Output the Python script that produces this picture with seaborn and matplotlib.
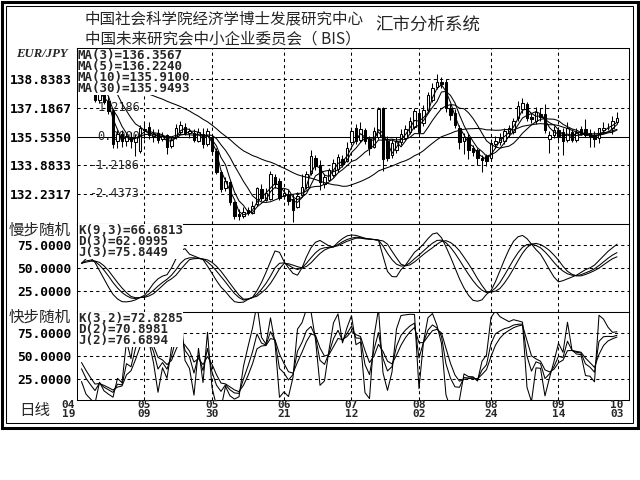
import numpy as np
import pandas as pd
import matplotlib
matplotlib.use("Agg")
import matplotlib.pyplot as plt
from matplotlib.patches import Rectangle
from matplotlib.transforms import blended_transform_factory
import seaborn as sns

# ---------------- data ----------------
# closes of the 29 sessions before the first shown day (seed for the moving averages)
history_close = [137.90, 138.10, 138.35, 138.20, 138.50, 138.30, 138.05, 138.25, 138.40, 138.15,
                 138.35, 138.20, 138.45, 138.10, 138.30, 138.55, 138.40, 138.25, 138.60, 138.45,
                 138.95, 139.30, 139.55, 139.80, 140.10, 140.05, 140.35, 140.20, 140.45]

open_px = [140.10, 139.70, 139.30, 138.55, 137.65, 138.00, 137.60, 137.00, 135.25, 135.70,
           135.30, 135.50, 135.20, 134.70, 135.90, 136.10, 135.55, 135.75, 135.40, 135.60,
           135.00, 135.50, 135.80, 136.10, 135.75, 135.75, 135.30, 135.70, 135.10, 135.45,
           134.70, 133.50, 132.60, 132.90, 131.75, 131.10, 130.95, 131.30, 131.15, 131.65,
           132.50, 131.90, 131.95, 133.20, 132.95, 132.10, 132.25, 131.95, 131.50, 132.15,
           132.65, 133.45, 134.30, 133.90, 132.80, 133.05, 133.30, 133.65, 134.25, 134.15,
           135.20, 136.00, 135.35, 135.90, 135.40, 134.95, 135.50, 137.15, 135.30, 134.45,
           134.75, 135.20, 135.45, 135.80, 136.10, 136.90, 136.30, 137.05, 137.65, 138.40,
           138.65, 138.65, 137.20, 136.90, 136.05, 135.25, 135.50, 134.90, 134.75, 134.30,
           134.40, 134.30, 135.10, 135.20, 135.25, 135.75, 135.80, 136.60, 137.10, 137.40,
           136.65, 136.40, 136.85, 136.85, 135.40, 135.60, 135.90, 135.80, 135.35, 135.80,
           135.35, 135.95, 135.95, 135.75, 135.65, 135.45, 135.90, 136.00, 136.05, 136.35]

high_px = [140.45, 140.00, 139.55, 138.70, 138.30, 138.20, 137.85, 137.10, 135.90, 135.90,
           135.75, 135.80, 135.70, 136.20, 136.35, 136.35, 135.95, 135.95, 135.80, 135.70,
           135.50, 136.25, 136.40, 136.30, 136.00, 135.95, 136.05, 136.00, 136.05, 135.60,
           134.85, 133.60, 133.20, 133.00, 131.85, 131.35, 131.45, 131.50, 131.85, 132.65,
           132.80, 132.55, 133.55, 133.40, 133.15, 132.55, 132.45, 132.20, 132.35, 133.35,
           133.55, 134.75, 134.50, 134.20, 133.40, 133.75, 134.25, 134.55, 134.45, 135.20,
           136.05, 136.25, 136.35, 136.05, 135.55, 136.10, 137.25, 137.25, 135.55, 135.40,
           135.50, 135.95, 136.20, 136.65, 137.20, 137.10, 137.35, 138.10, 138.60, 139.15,
           138.95, 138.85, 137.40, 137.10, 136.20, 135.75, 135.70, 135.05, 134.90, 134.50,
           134.55, 135.40, 135.55, 135.75, 136.05, 136.20, 136.60, 137.60, 137.75, 137.55,
           136.90, 137.25, 137.20, 137.40, 135.85, 136.15, 136.10, 136.00, 136.35, 135.95,
           136.05, 136.15, 136.55, 135.95, 135.85, 136.00, 136.3916, 136.30, 136.70, 136.94926]

low_px = [139.55, 139.15, 138.75, 137.50, 137.45, 137.40, 136.85, 134.85, 134.90, 134.95,
          135.00, 134.90, 134.40, 134.60, 135.40, 135.40, 135.20, 135.15, 135.25, 134.55,
          134.90, 135.40, 135.70, 135.60, 135.45, 135.20, 135.20, 134.90, 135.00, 134.60,
          133.40, 132.35, 132.40, 131.60, 130.80, 130.75, 130.85, 131.00, 131.05, 131.55,
          131.85, 131.80, 131.90, 132.60, 131.90, 131.95, 131.60, 130.60, 131.40, 132.05,
          132.50, 133.30, 133.60, 132.45, 132.60, 132.95, 133.20, 133.50, 133.80, 134.05,
          135.05, 135.10, 135.20, 135.10, 134.50, 134.85, 135.40, 133.55, 134.10, 134.30,
          134.60, 135.05, 135.35, 135.70, 135.95, 135.65, 136.15, 136.95, 137.55, 138.25,
          138.30, 136.95, 136.50, 136.00, 134.80, 134.55, 134.25, 134.40, 133.90, 133.50,
          133.85, 134.20, 134.90, 135.05, 135.10, 135.50, 135.70, 136.45, 136.90, 136.40,
          136.30, 136.25, 136.45, 135.75, 134.60, 135.45, 135.35, 134.45, 135.20, 135.20,
          135.20, 135.60, 135.50, 134.95, 134.95, 135.1704, 135.75, 135.90, 135.666, 136.25]

close_px = [139.75, 139.35, 138.95, 137.65, 138.05, 137.55, 137.00, 135.10, 135.70, 135.25,
            135.55, 135.25, 135.50, 136.00, 135.95, 135.60, 135.70, 135.35, 135.55, 134.95,
            135.35, 136.05, 136.20, 135.75, 135.85, 135.35, 135.80, 135.10, 135.85, 134.70,
            133.50, 132.50, 133.00, 131.75, 130.95, 130.95, 131.20, 131.15, 131.55, 132.55,
            132.00, 132.30, 133.40, 132.80, 132.00, 132.30, 131.85, 131.30, 132.10, 132.65,
            133.35, 134.40, 133.85, 132.90, 133.20, 133.60, 134.00, 134.35, 133.95, 134.90,
            135.85, 135.30, 135.95, 135.25, 134.85, 135.85, 137.10, 134.25, 134.30, 135.15,
            135.30, 135.70, 135.95, 136.45, 137.00, 135.80, 137.05, 137.90, 138.35, 138.65,
            138.55, 137.20, 136.75, 136.20, 135.20, 135.50, 134.75, 134.65, 134.30, 134.20,
            134.15, 135.15, 135.30, 135.45, 135.85, 136.00, 136.40, 137.30, 137.45, 136.60,
            136.55, 136.95, 136.65, 135.90, 135.60, 135.90, 135.55, 135.25, 136.05, 135.329,
            135.80, 135.70, 135.60, 135.50, 135.38, 136.00, 136.0499, 136.0501, 136.40, 136.62]

# slow stochastic (9,3): K and D per session
k_slow = [55, 57.5, 58.5, 57, 53, 47.5, 41, 34, 28, 23,
          19.5, 17, 16.5, 17.5, 18.5, 21.5, 25.5, 30, 34, 37.5,
          42, 48, 55, 59.5, 61, 61, 60.5, 59.5, 56.5, 52,
          46.5, 40.5, 34.5, 28, 22, 17.5, 14.7, 15.8, 17.6, 21,
          26.5, 33, 41, 50, 55, 55.5, 53, 50, 48.2, 50,
          55, 61, 66.5, 70.5, 72, 72.5, 73, 75.5, 78.5, 81,
          82.5, 83.5, 83, 82, 81.5, 81, 80.3, 74, 66, 59,
          54, 52, 52.5, 55.5, 60, 64, 68.5, 73, 77, 80,
          80.3, 77.5, 72.5, 66, 58.5, 50.5, 43, 36, 30, 25.5,
          23, 24, 28, 34, 42, 50.5, 59, 66.5, 72.5, 75.5,
          76, 74.5, 72, 67.5, 62, 56, 50.5, 46.5, 43.5, 42,
          41.5, 42.5, 44.5, 46.5, 49, 52.5, 56.5, 60.5, 64, 66.6813]
d_slow = [55, 56.25, 57.25, 57.5, 56, 52.25, 47, 40.5, 34, 28,
          22.85, 18.75, 17.25, 17.5, 17.75, 19.25, 21.75, 26, 30.5, 35,
          38, 42, 48, 53.75, 59, 60, 60.25, 59.75, 58.75, 56,
          51.75, 46.25, 39.75, 33, 26.5, 20.2, 15.8, 15.95, 17.6, 19,
          22.75, 27, 33, 40.75, 49, 54.75, 54.5, 53, 51.3, 50,
          51.5, 55.5, 60.75, 65.75, 69.5, 71.75, 73, 74.25, 76.75, 79,
          80.75, 82.5, 82.5, 81.75, 81.5, 81, 80.3, 79.5, 76, 68.25,
          60.9, 54, 52.25, 53.25, 56.5, 60.5, 64.75, 68.5, 72, 75.85,
          78.95, 79.75, 77.75, 74, 68.75, 61.75, 54.5, 46.75, 38.25, 30.75,
          24, 23.5, 24.5, 27.5, 33.5, 40.75, 49, 57.75, 66, 72.25,
          76, 76.75, 75.5, 72.75, 69, 64, 58.4, 51.75, 46.25, 43,
          41.25, 41.25, 42.75, 44.75, 47, 49.75, 53.25, 56.75, 60, 62.0995]

# latest fast stochastic (3,2) readings shown in the panel heading
fast_readout = [72.8285, 70.8981, 76.6894]

ma_periods = [3, 5, 10, 30]
price_ticks = [138.8383, 137.1867, 135.5350, 133.8833, 132.2317]
base_price = 135.5350
pct_labels = ["1.2186", "0.0000", "-1.2186", "-2.4373"]
pct_levels = [137.1867, 135.5350, 133.8833, 132.2317]
osc_ticks = [75.0, 50.0, 25.0]
date_pos = [0, 14, 29, 45, 60, 75, 91, 106, 119]
date_month = ["04", "05", "05", "06", "07", "08", "08", "09", "10"]
date_day = ["19", "09", "30", "21", "12", "02", "24", "14", "03"]

# ---------------- indicators ----------------
n = len(close_px)
xs = np.arange(n)
o = np.array(open_px); h = np.array(high_px); l = np.array(low_px); c = np.array(close_px)

full_close = pd.Series(history_close + close_px)
ma = {p: full_close.rolling(p, min_periods=1).mean().to_numpy()[len(history_close):]
      for p in ma_periods}


def kdj(hi, lo, cl, period, m1, m2):
    hh = pd.Series(hi).rolling(period, min_periods=1).max().to_numpy()
    ll = pd.Series(lo).rolling(period, min_periods=1).min().to_numpy()
    rsv = (cl - ll) / (hh - ll) * 100.0
    k = np.empty(len(cl)); d = np.empty(len(cl))
    kp = dp = 50.0
    for i, r in enumerate(rsv):
        kp = ((m1 - 1) * kp + r) / m1
        dp = ((m2 - 1) * dp + kp) / m2
        k[i] = kp; d[i] = dp
    return k, d, 3 * k - 2 * d


ks = np.array(k_slow); ds = np.array(d_slow); js = 3 * ks - 2 * ds
k_fast, d_fast, j_fast = kdj(h, l, c, 3, 2, 2)

# ---------------- figure ----------------
sns.set_theme(style="white")
plt.rcParams["font.family"] = ["DejaVu Sans", "Noto Sans CJK SC"]
W, H = 640, 480
fig = plt.figure(figsize=(6.4, 4.8), dpi=100)
fig.patch.set_facecolor("white")


def fx(px):
    return px / W


def fy(py):
    return 1 - py / H


L, R = 77, 629
ax1 = fig.add_axes([fx(L), fy(224), fx(R) - fx(L), fy(48) - fy(224)])
ax2 = fig.add_axes([fx(L), fy(312), fx(R) - fx(L), fy(224) - fy(312)])
ax3 = fig.add_axes([fx(L), fy(400), fx(R) - fx(L), fy(312) - fy(400)])

LW = 0.75
DASH = (0, (3, 3))
MONO = dict(family="DejaVu Sans Mono", weight="bold")
CJK = ["Noto Sans CJK SC", "DejaVu Sans"]

for ax in (ax1, ax2, ax3):
    ax.set_facecolor("white")
    ax.set_xlim(-1.0, 121.67)
    ax.set_xticks([])
    for sp in ax.spines.values():
        sp.set_color("black"); sp.set_linewidth(LW); sp.set_visible(True)
    ax.tick_params(axis="y", length=0, pad=4, labelsize=9.3)
    for d in date_pos[1:-1]:
        ax.axvline(d, color="black", lw=LW, ls=DASH, zorder=1)

# price panel
ax1.set_ylim(130.50, 140.63)
ax1.set_yticks(price_ticks, [f"{v:.4f}" for v in price_ticks])
for v in price_ticks:
    if abs(v - base_price) < 1e-6:
        ax1.axhline(v, color="black", lw=LW, zorder=1)
    else:
        ax1.axhline(v, color="black", lw=LW, ls=DASH, zorder=1)
tr1 = blended_transform_factory(ax1.transAxes, ax1.transData)
for lab, lev in zip(pct_labels, pct_levels):
    ax1.text((140 - L) / (R - L), lev, lab, transform=tr1, ha="right", va="center",
             fontsize=8.6, family="DejaVu Sans Mono", zorder=2)

up = c >= o
bottom = np.minimum(o, c)
body = np.maximum(np.abs(c - o), 0.012)
ax1.vlines(xs, l, h, color="black", lw=LW, zorder=3)
ax1.bar(xs[up], body[up], bottom=bottom[up], width=0.62, facecolor="white",
        edgecolor="black", linewidth=LW, zorder=4)
ax1.bar(xs[~up], body[~up], bottom=bottom[~up], width=0.62, facecolor="black",
        edgecolor="black", linewidth=LW, zorder=4)
for p in ma_periods:
    sns.lineplot(x=xs, y=ma[p], ax=ax1, color="black", linewidth=LW, zorder=5)

# oscillator panels
for ax, (k, d, j) in ((ax2, (ks, ds, js)), (ax3, (k_fast, d_fast, j_fast))):
    for v in osc_ticks:
        ax.axhline(v, color="black", lw=LW, ls=DASH, zorder=1)
    for series in (k, d, j):
        sns.lineplot(x=xs, y=series, ax=ax, color="black", linewidth=LW, zorder=5)
    ax.set_yticks(osc_ticks, [f"{v:.4f}" for v in osc_ticks])
ax2.set_ylim(1.7, 98.0)
ax3.set_ylim(2.0, 98.3)

for ax in (ax1, ax2, ax3):
    ax.set_xlabel(""); ax.set_ylabel("")
    for t in ax.get_yticklabels():
        t.set_fontfamily("DejaVu Sans Mono"); t.set_fontweight("bold"); t.set_color("black")

# indicator read-outs, one block per panel
BOX = dict(facecolor="white", edgecolor="none", pad=0.2)


def readout(rows, top):
    fig.text(fx(78), fy(top), "\n".join(rows), fontsize=9.0, va="top", ha="left",
             linespacing=0.79, bbox=BOX, **MONO)


readout([f"MA({p})={ma[p][-1]:.4f}" for p in ma_periods], 49.5)
readout([f"K(9,3)={ks[-1]:.4f}", f"D(3)={ds[-1]:.4f}", f"J(3)={js[-1]:.4f}"], 224.2)
kf, df, jf = fast_readout
readout([f"K(3,2)={kf:.4f}", f"D(2)={df:.4f}", f"J(2)={jf:.4f}"], 312.4)

# date axis
trd = blended_transform_factory(ax3.transData, fig.transFigure)
for pos, mo, dy in zip(date_pos, date_month, date_day):
    xpos = pos if pos > 0 else -2.9
    ax3.text(xpos, fy(405), mo, transform=trd, ha="center", va="center", fontsize=8,
             clip_on=False, **MONO)
    ax3.text(xpos, fy(414), dy, transform=trd, ha="center", va="center", fontsize=8,
             clip_on=False, **MONO)

# headings and panel names
fig.text(fx(85), fy(18.5), "中国社会科学院经济学博士发展研究中心", fontsize=11.2, family=CJK,
         va="center", ha="left")
fig.text(fx(85), fy(39.5), "中国未来研究会中小企业委员会（ BIS）", fontsize=11.2, family=CJK,
         va="center", ha="left")
fig.text(fx(375), fy(25), "汇市分析系统", fontsize=12.6, family=CJK, va="center", ha="left")
fig.text(fx(41.5), fy(54), "EUR/JPY", family="Liberation Serif", weight="bold", style="italic",
         fontsize=9.2, ha="center", va="center")
fig.text(fx(9), fy(230), "慢步随机", fontsize=11.2, family=CJK, va="center", ha="left")
fig.text(fx(9), fy(317), "快步随机", fontsize=11.2, family=CJK, va="center", ha="left")
fig.text(fx(19), fy(410), "日线", fontsize=11.2, family=CJK, va="center", ha="left")

# double frame
fig.add_artist(Rectangle((fx(1.5), fy(427.5)), 636.0 / W, 426.0 / H, transform=fig.transFigure,
                         fill=False, edgecolor="black", linewidth=2.2))
fig.add_artist(Rectangle((fx(6), fy(423)), 627.0 / W, 417.0 / H, transform=fig.transFigure,
                         fill=False, edgecolor="black", linewidth=0.75))

fig.savefig("out.png", dpi=100, facecolor="white")
